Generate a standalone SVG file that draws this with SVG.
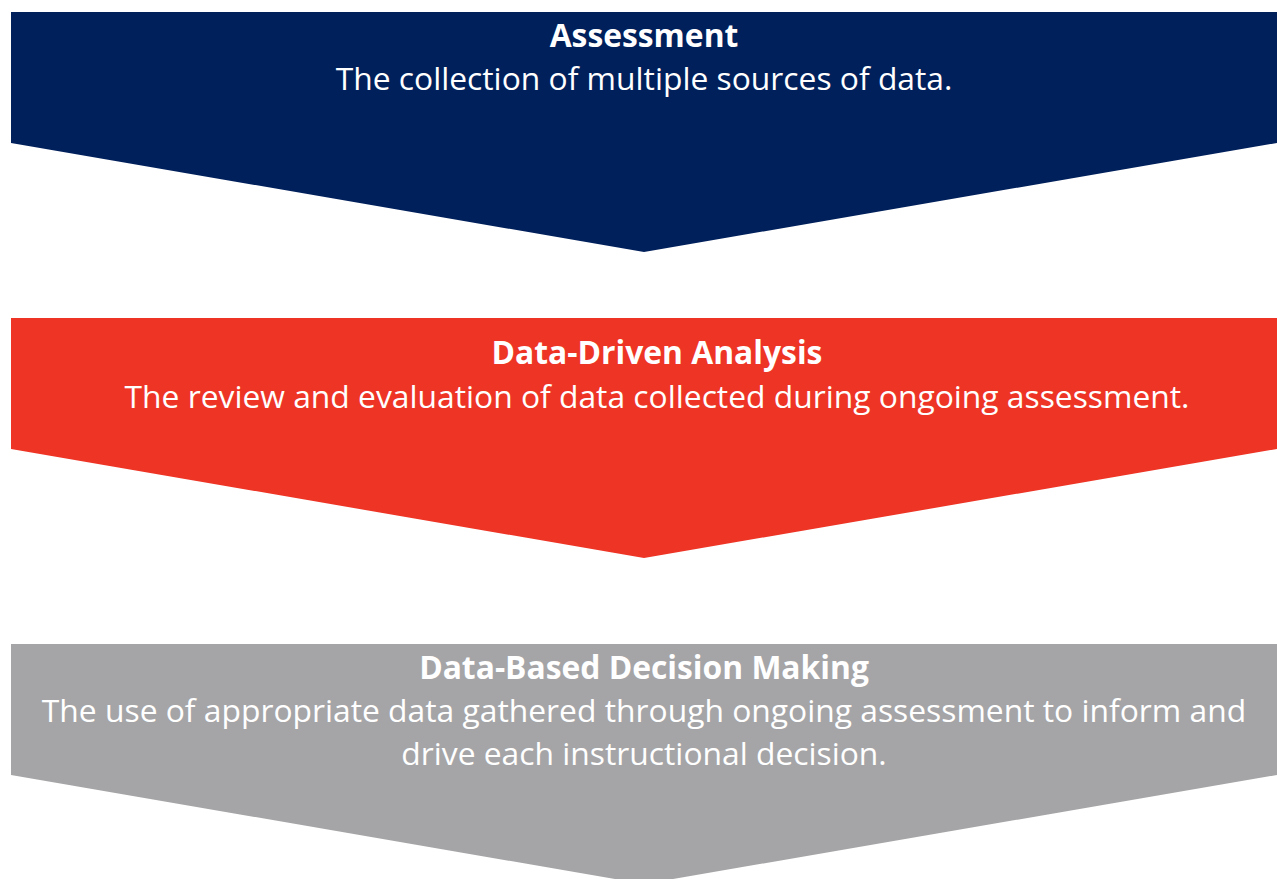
<svg xmlns="http://www.w3.org/2000/svg" width="1277" height="879" viewBox="0 0 1277 879">
<style>
.t{font-family:"Open Sans","Noto Sans",sans-serif;font-size:31.8px;fill:#fff;text-anchor:middle}
.b{font-weight:bold}
</style>
<rect width="1277" height="879" fill="#fff"/>
<g id="assessment">
<polygon points="11,12 1277,12 1277,143 644,252 11,143" fill="#00205C"/>
<text class="t b" x="644" y="47">Assessment</text>
<text class="t" x="644" y="90">The collection of multiple sources of data.</text>
</g>
<g id="analysis">
<polygon points="11,318 1277,318 1277,449 644,558 11,449" fill="#EE3425"/>
<text class="t b" x="657" y="364">Data-Driven Analysis</text>
<text class="t" x="657" y="408">The review and evaluation of data collected during ongoing assessment.</text>
</g>
<g id="decision">
<polygon points="11,644 1277,644 1277,775 644,884 11,775" fill="#A5A5A7"/>
<text class="t b" x="644" y="679">Data-Based Decision Making</text>
<text class="t" x="644" y="722">The use of appropriate data gathered through ongoing assessment to inform and</text>
<text class="t" x="644" y="765">drive each instructional decision.</text>
</g>
<g id="connectors"/>
</svg>
